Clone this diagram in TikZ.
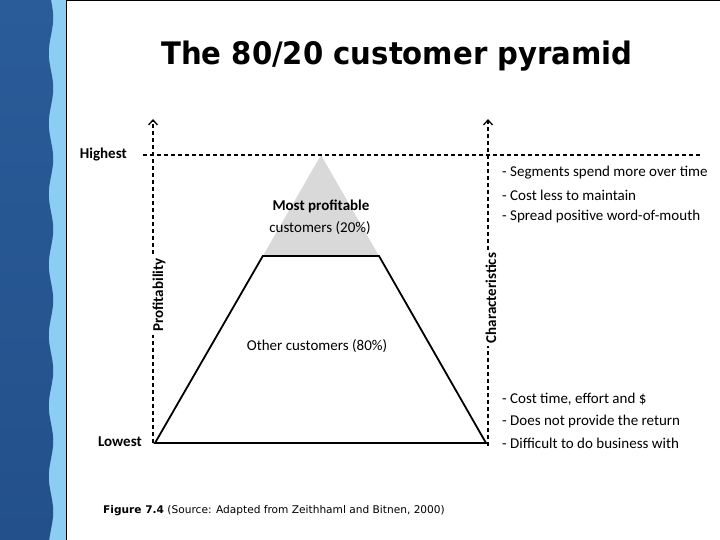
\documentclass[tikz,border=0pt]{standalone}
\usepackage{fontspec}
\setmainfont{Carlito}
\newfontfamily\titlefont{DejaVu Sans}
\usetikzlibrary{arrows.meta}
\definecolor{bandtop}{HTML}{2A5C99}
\definecolor{bandmid}{HTML}{3E89D4}
\definecolor{bandbot}{HTML}{23508A}
\definecolor{wave}{HTML}{8CCDF3}
\definecolor{topgray}{HTML}{D9D9D9}
\begin{document}
\begin{tikzpicture}[x=1pt,y=-1pt,
  axis/.style={dashed,dash pattern=on 4pt off 3pt,line width=1.5pt,-{Straight Barb[length=5pt,width=9pt,line width=1.3pt]}},
  guide/.style={dashed,dash pattern=on 4pt off 3pt,line width=1.5pt},
  pyr/.style={line width=1.8pt,line join=miter},
  txt/.style={font=\fontsize{15}{17}\selectfont,inner sep=0pt},
  btxt/.style={font=\fontsize{15}{17}\selectfont\bfseries,inner sep=0pt},
  note/.style={font=\fontsize{15}{17}\selectfont,inner sep=0pt,anchor=west},
  axlabel/.style={font=\fontsize{15}{17}\selectfont\bfseries,rotate=90,fill=white,inner xsep=3pt,inner ysep=1pt}]
\useasboundingbox (0,0) rectangle (720,540);
\fill[white] (0,0) rectangle (720,540);
% left decorative band
\fill[wave] (0,0) rectangle (66,540);
\shade[top color=bandtop,middle color=bandmid,bottom color=bandbot]
  (0,0) -- plot[domain=0:540,samples=160,variable=\t] ({51+2.2*sin(5.1*\t)},\t) -- (0,540) -- cycle;
\draw[line width=1pt] (66,540) -- (66,0.8) -- (720,0.8);
% title
\node[font=\titlefont\bfseries\fontsize{31}{34}\selectfont,inner sep=0pt] (title) at (397,56) {\scalebox{0.94}[1]{The 80/20 customer pyramid}};
% coordinates
\coordinate (apex) at (321,155);
\coordinate (bl) at (155,443);
\coordinate (br) at (486,443);
\coordinate (tl) at (262.8,256);
\coordinate (tr) at (379,256);
\coordinate (lb) at (153,443);
\coordinate (lt) at (153,119);
\coordinate (rb) at (488,446);
\coordinate (rt) at (488,119);
\coordinate (hl) at (143,155);
\coordinate (hr) at (700,155);
% gray top
\fill[topgray] (apex) -- (tl) -- (tr) -- cycle;
% guide and axes
\draw[guide] (hl) -- (hr);
\draw[axis] (lb) -- (lt);
\draw[axis] (rb) -- (rt);
\node[axlabel] (prof) at (159,295) {Profitability};
\node[axlabel] (char) at (491,298) {Characteristics};
% pyramid body
\draw[pyr] (tl) -- (bl) -- (br) -- (tr) -- cycle;
% labels
\node[btxt,anchor=east] (high) at (127,155) {Highest};
\node[btxt,anchor=east] (low) at (142,442) {Lowest};
\node[btxt] (mp) at (321,206) {Most profitable};
\node[txt] (mp2) at (320,228) {customers (20\%)};
\node[txt] (oc) at (317,346) {Other customers (80\%)};
\node[note] (n1) at (502,173) {- Segments spend more over time};
\node[note] (n2) at (502,195) {- Cost less to maintain};
\node[note] (n3) at (502,217) {- Spread positive word-of-mouth};
\node[note] (n4) at (502,399) {- Cost time, effort and \$};
\node[note] (n5) at (502,421) {- Does not provide the return};
\node[note] (n6) at (502,443) {- Difficult to do business with};
% caption
\node[font=\titlefont\fontsize{10.6}{12}\selectfont,inner sep=0pt,anchor=west] (cap) at (103,511) {\textbf{Figure 7.4} (Source: Adapted from Zeithhaml and Bitnen, 2000)};
\end{tikzpicture}
\end{document}
